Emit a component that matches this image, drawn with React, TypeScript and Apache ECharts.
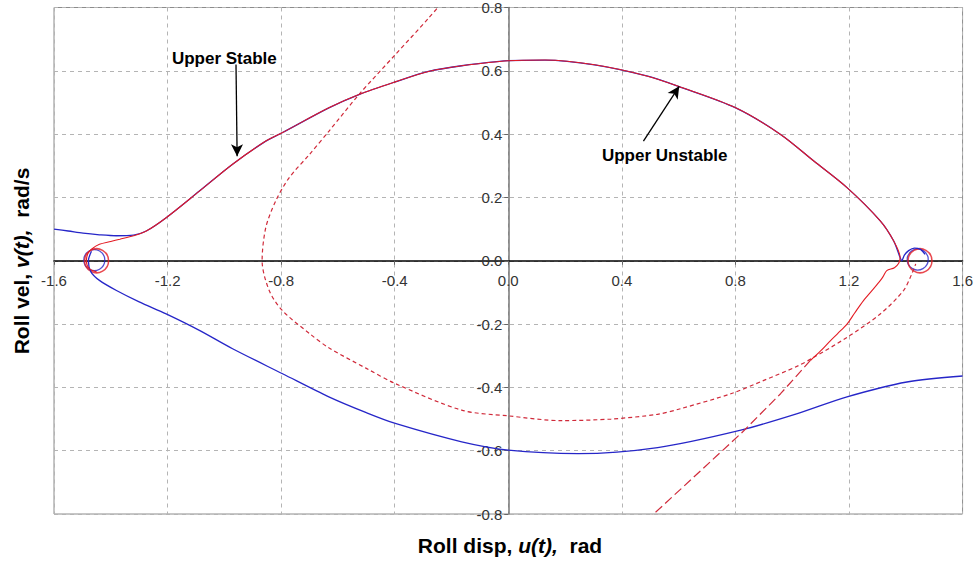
import React, { useEffect, useRef } from "react";
import * as echarts from "echarts";

type Pt = [number, number];

// Roll phase-plane trajectories: u (rad) vs v (rad/s)
const separatrixArc: Pt[] = [
  [-1.275, 0.094], [-1.205, 0.136], [-1.088, 0.22], [-0.971, 0.305], [-0.854, 0.378],
  [-0.795, 0.405], [-0.632, 0.483], [-0.526, 0.525], [-0.398, 0.565], [-0.281, 0.598],
  [-0.164, 0.616], [0.0, 0.632], [0.129, 0.634], [0.304, 0.619], [0.491, 0.583],
  [0.608, 0.548], [0.801, 0.483], [0.959, 0.399], [1.076, 0.315], [1.193, 0.231],
  [1.31, 0.126], [1.357, 0.063], [1.38, 0.01],
];
const blueLeftTail: Pt[] = [
  [-1.6, 0.1], [-1.55, 0.094], [-1.498, 0.087], [-1.44, 0.082], [-1.38, 0.079], [-1.32, 0.081],
];
const blueRightCurl: Pt[] = [
  [1.386, 0.0], [1.395, 0.018], [1.41, 0.032], [1.43, 0.04], [1.452, 0.036], [1.468, 0.02],
];
const redLeftCurl: Pt[] = [
  [-1.45, -0.035], [-1.476, -0.025], [-1.486, 0.0], [-1.481, 0.022], [-1.467, 0.037],
  [-1.44, 0.052], [-1.4, 0.061], [-1.368, 0.068], [-1.32, 0.079],
];
const redRightDrop: Pt[] = [
  [1.375, -0.008], [1.36, -0.022], [1.333, -0.031], [1.32, -0.05], [1.31, -0.063],
  [1.28, -0.095], [1.251, -0.126], [1.22, -0.165], [1.193, -0.2], [1.16, -0.23],
  [1.135, -0.252], [1.1, -0.285], [1.064, -0.315],
];
const redLongDash: Pt[] = [
  [1.064, -0.315], [0.959, -0.42], [0.825, -0.541], [0.667, -0.672], [0.5, -0.81],
];
const blueLower: Pt[] = [
  [-1.468, 0.03], [-1.479, 0.0], [-1.47, -0.035], [-1.44, -0.062], [-1.38, -0.094],
  [-1.3, -0.13], [-1.205, -0.168], [-1.088, -0.22], [-0.971, -0.278], [-0.795, -0.357],
  [-0.632, -0.43], [-0.5, -0.48], [-0.398, -0.514], [-0.164, -0.572], [0.0, -0.598],
  [0.246, -0.609], [0.526, -0.59], [0.819, -0.535], [1.018, -0.483], [1.193, -0.43],
  [1.404, -0.383], [1.6, -0.364],
];
const redDashedLoop: Pt[] = [
  [-0.22, 0.83], [-0.281, 0.766], [-0.398, 0.651], [-0.526, 0.525], [-0.632, 0.409],
  [-0.7, 0.336], [-0.772, 0.262], [-0.819, 0.189], [-0.854, 0.105], [-0.867, 0.0],
  [-0.842, -0.094], [-0.796, -0.157], [-0.7, -0.23], [-0.632, -0.275], [-0.5, -0.34],
  [-0.398, -0.388], [-0.164, -0.472], [0.0, -0.49], [0.187, -0.505], [0.362, -0.5],
  [0.526, -0.485], [0.608, -0.467], [0.784, -0.42], [0.9, -0.378], [1.018, -0.333],
  [1.076, -0.305], [1.193, -0.242], [1.31, -0.168], [1.392, -0.094], [1.421, -0.042],
  [1.435, -0.01],
];
const saddlePoints: Pt[] = [[-1.45, 0], [1.45, 0]];
const saddlePointsBlue: Pt[] = [[-1.458, 0.002], [1.442, 0.004]];

// Annotations: label centre, arrow tail, arrow head (data units)
const annotations = [
  { text: "Upper Stable", label: [-1.0, 0.639] as Pt, from: [-0.959, 0.62] as Pt, to: [-0.955, 0.33] as Pt },
  { text: "Upper Unstable", label: [0.551, 0.331] as Pt, from: [0.476, 0.378] as Pt, to: [0.602, 0.551] as Pt },
];

const X_MIN = -1.6;
const X_MAX = 1.6;
const Y_MIN = -0.8;
const Y_MAX = 0.8;

const BLUE = "#2626c8";
const RED = "#e31b23";
const RED_DASH = "#d02a3a";
const FONT = "'Liberation Sans', Arial, sans-serif";

const fmt = (v: number) => (Math.abs(v) < 1e-9 ? "0.0" : v.toFixed(1));

export default function App() {
  const ref = useRef<HTMLDivElement>(null);

  useEffect(() => {
    document.body.style.margin = "0";
    const chart = echarts.init(ref.current!, null, { renderer: "svg" });
    const lineBase = { type: "line" as const, showSymbol: false, symbol: "none", smooth: 0.3, silent: true };
    chart.setOption({
      animation: false,
      backgroundColor: "#ffffff",
      textStyle: { fontFamily: FONT },
      grid: { left: 54, right: 10, top: 6, bottom: 49, show: true, borderColor: "#8c8c8c", borderWidth: 1 },
      xAxis: {
        type: "value",
        min: X_MIN,
        max: X_MAX,
        interval: 0.4,
        position: "bottom",
        axisLine: { onZero: false, lineStyle: { color: "#000", width: 1.5 } },
        axisTick: { show: true, length: 4, lineStyle: { color: "#666" } },
        axisLabel: { formatter: fmt, color: "#333", fontSize: 15, margin: 12, fontFamily: FONT },
        splitLine: { show: true, lineStyle: { color: "#b4b4b4", type: [4, 4], width: 1 } },
      },
      yAxis: {
        type: "value",
        min: Y_MIN,
        max: Y_MAX,
        interval: 0.2,
        position: "left",
        axisLine: { onZero: false, lineStyle: { color: "#777", width: 1.5 } },
        axisTick: { show: true, length: 4, lineStyle: { color: "#666" } },
        axisLabel: { formatter: fmt, color: "#333", fontSize: 15, margin: 6, fontFamily: FONT },
        splitLine: { show: true, lineStyle: { color: "#b4b4b4", type: [4, 4], width: 1 } },
      },
      series: [
        {
          ...lineBase,
          name: "lower",
          data: blueLower,
          lineStyle: { color: BLUE, width: 1.3 },
          markLine: {
            silent: true,
            symbol: ["none", "arrow"],
            symbolSize: [9, 12],
            label: { show: false },
            lineStyle: { color: "#000", type: "solid", width: 1.3 },
            data: annotations.map((a) => [{ coord: a.from }, { coord: a.to }]),
          },
        },
        { ...lineBase, name: "dashedLoop", data: redDashedLoop, lineStyle: { color: RED_DASH, width: 1.2, type: [4, 3] } },
        { ...lineBase, name: "longDash", data: redLongDash, smooth: false, lineStyle: { color: RED_DASH, width: 1.2, type: [9, 4] } },
        { ...lineBase, name: "upperBlue", data: [...blueLeftTail, ...separatrixArc, ...blueRightCurl], lineStyle: { color: BLUE, width: 1.3 } },
        { ...lineBase, name: "upperRed", data: [...redLeftCurl, ...separatrixArc, ...redRightDrop], lineStyle: { color: RED, width: 1.1 } },
        {
          type: "scatter",
          silent: true,
          data: saddlePointsBlue,
          symbol: "circle",
          symbolSize: 21,
          itemStyle: { color: "rgba(0,0,0,0)", borderColor: BLUE, borderWidth: 1.3 },
        },
        {
          type: "scatter",
          silent: true,
          data: saddlePoints,
          symbol: "circle",
          symbolSize: 24,
          itemStyle: { color: "rgba(0,0,0,0)", borderColor: RED, borderWidth: 1.5 },
        },
      ],
    });

    // Move both axes (line, ticks and labels) so they cross at the origin
    const origin = chart.convertToPixel({ gridIndex: 0 }, [0, 0]) as number[];
    const corner = chart.convertToPixel({ gridIndex: 0 }, [X_MIN, Y_MIN]) as number[];
    const xOffset = origin[1] - corner[1];
    const yOffset = corner[0] - origin[0];

    const texts = annotations.map((a) => {
      const p = chart.convertToPixel({ gridIndex: 0 }, a.label) as number[];
      return {
        type: "text",
        x: p[0],
        y: p[1],
        silent: true,
        style: {
          text: a.text,
          fill: "#000",
          font: `bold 17px ${FONT}`,
          align: "center",
          verticalAlign: "middle",
        },
      };
    });

    const rich = {
      a: { fontSize: 21, fontWeight: "bold", fontFamily: FONT, fill: "#000" },
      b: { fontSize: 21, fontWeight: "bold", fontStyle: "italic", fontFamily: FONT, fill: "#000" },
    };

    chart.setOption({
      xAxis: { offset: xOffset },
      yAxis: { offset: yOffset },
      graphic: [
        ...texts,
        {
          type: "text",
          x: 510,
          y: 545,
          silent: true,
          style: {
            text: "{a|Roll disp, }{b|u(t),}{a|  rad}",
            align: "center",
            verticalAlign: "middle",
            rich,
          },
        },
        {
          type: "text",
          x: 21,
          y: 261,
          rotation: Math.PI / 2,
          silent: true,
          style: {
            text: "{a|Roll vel, }{b|v(t),}{a|  rad/s}",
            align: "center",
            verticalAlign: "middle",
            rich,
          },
        },
      ],
    });

    return () => chart.dispose();
  }, []);

  return <div ref={ref} style={{ position: "absolute", left: 0, top: 0, width: 976, height: 563 }} />;
}
